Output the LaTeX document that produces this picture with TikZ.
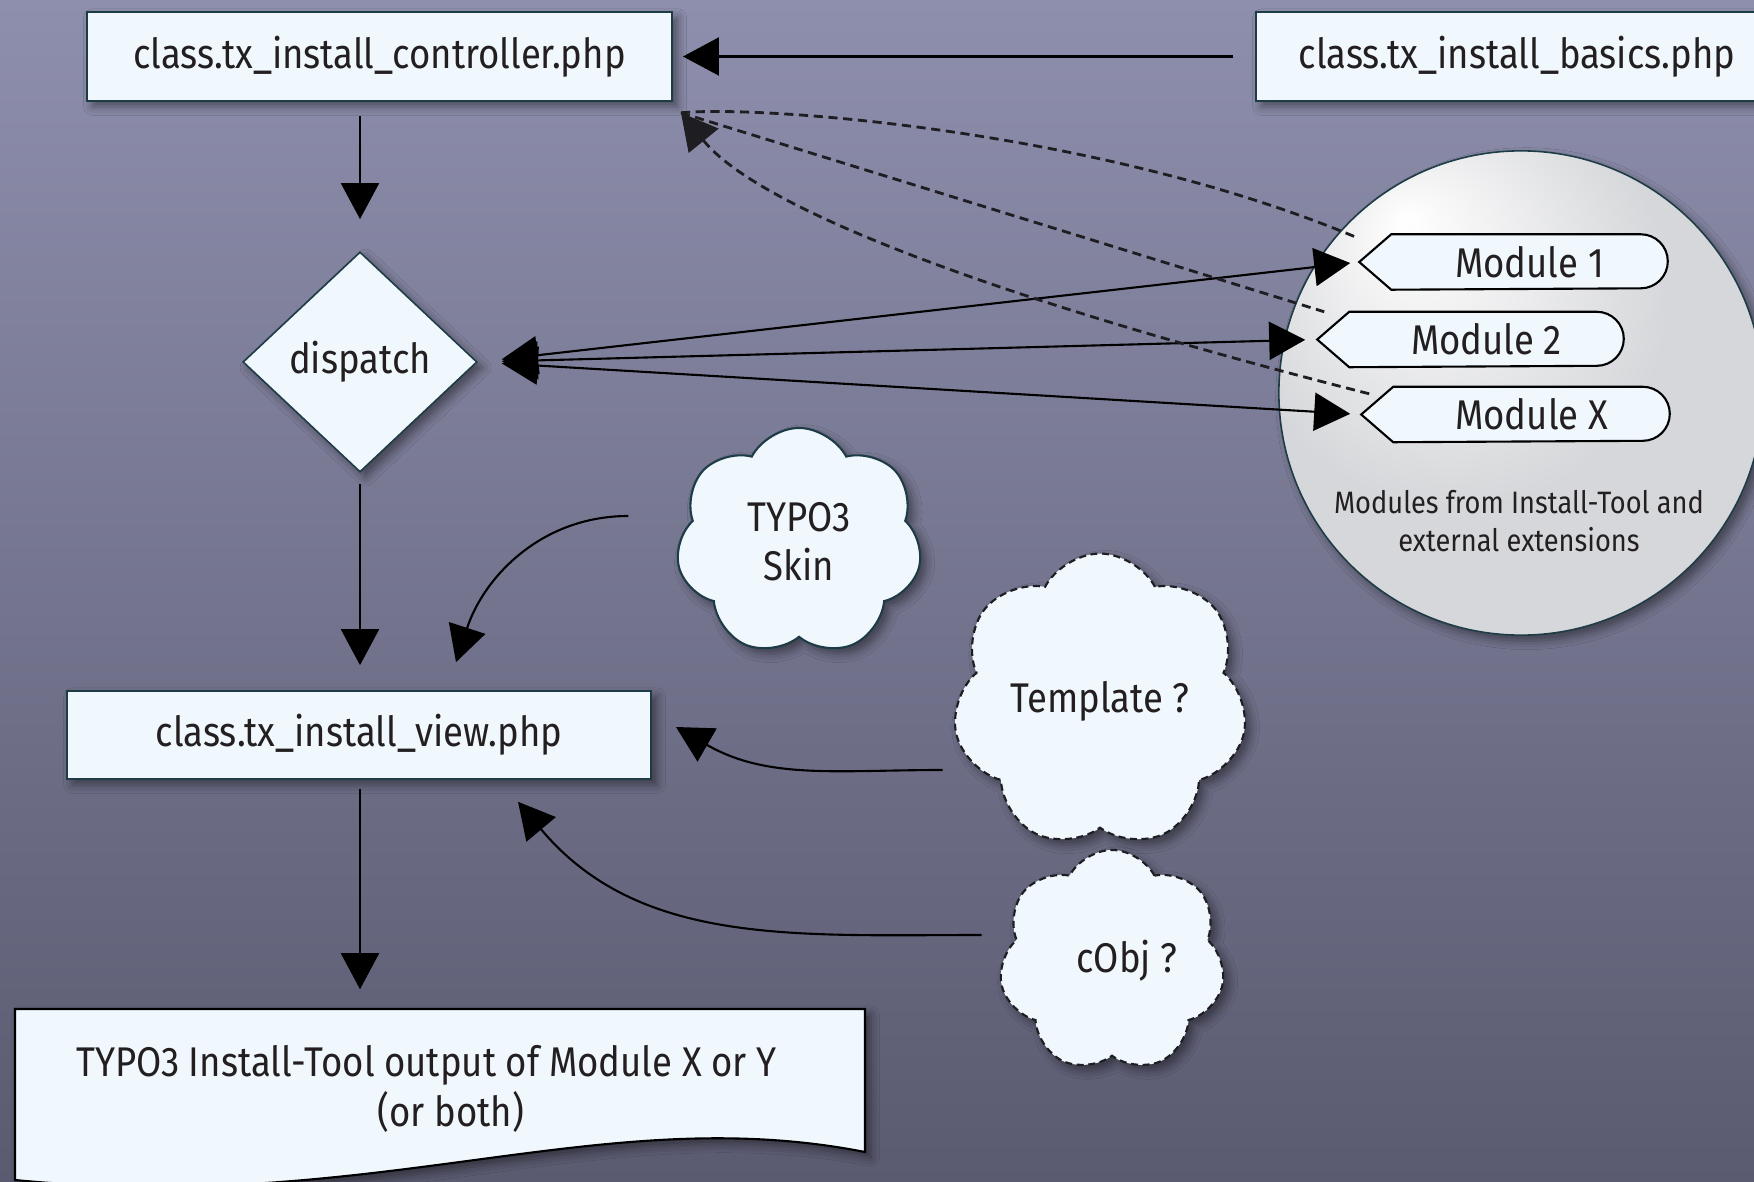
\documentclass[tikz,border=0pt]{standalone}
\usepackage{fontspec}
\setmainfont[FakeStretch=0.88]{Fira Sans}
\usetikzlibrary{arrows.meta,shapes.geometric,shapes.symbols,calc,shadows.blur}
\definecolor{bgtop}{RGB}{142,143,173}
\definecolor{bgbot}{RGB}{90,90,112}
\definecolor{boxfill}{RGB}{240,248,254}
\definecolor{boxline}{RGB}{30,60,70}
\definecolor{txt}{RGB}{35,31,32}
\definecolor{circgray}{RGB}{214,215,218}
\definecolor{dashcol}{RGB}{30,30,34}
\pgfdeclareradialshading{modshade}{\pgfpoint{-12bp}{18bp}}{color(0bp)=(white); color(22bp)=(circgray); color(50bp)=(circgray)}
\newcommand{\drawmod}[1]{%
  \path[modshape] (#1.west) -- ([xshift=0.32cm]#1.north west) -- ([xshift=-0.27cm]#1.north east)
    arc[start angle=90,end angle=-90,radius=0.27cm] -- ([xshift=0.32cm]#1.south west) -- cycle;}
\begin{document}
\begin{tikzpicture}[x=0.01cm,y=0.01cm,
  font=\fontsize{11.8}{14}\selectfont, text=txt,
  shad/.style={blur shadow={shadow xshift=1.6pt,shadow yshift=-1.6pt,shadow blur radius=2.5pt,shadow opacity=45}},
  box/.style={draw=boxline, line width=0.45pt, fill=boxfill, inner sep=0pt, shad},
  modshape/.style={draw=black, line width=0.6pt, fill=boxfill},
  cloudsolid/.style={cloud, cloud puffs=7, cloud puff arc=125, aspect=1, draw=boxline, line width=0.6pt, fill=boxfill, inner sep=0pt, align=center, shad},
  clouddash/.style={cloudsolid, draw=dashcol, dash pattern=on 2pt off 1.3pt},
  arr/.style={draw=black, line width=0.6pt, -{Triangle[length=0.36cm,width=0.38cm]}},
  dblarr/.style={draw=black, line width=0.6pt, {Triangle[length=0.36cm,width=0.38cm]}-{Triangle[length=0.36cm,width=0.38cm]}},
  dashln/.style={draw=dashcol, line width=0.8pt, dash pattern=on 2.6pt off 1.6pt}
]
\useasboundingbox (0,0) rectangle (1754,-1182);
\clip (0,0) rectangle (1754,-1182);
\shade[top color=bgtop, bottom color=bgbot] (0,0) rectangle (1754,-1182);

% module circle
\node[circle, minimum size=4.84cm, draw=boxline, line width=0.45pt, shading=modshade, shad] (modcircle) at (1521,-393) {};
\node[align=center, font=\fontsize{8.8}{11}\selectfont] (modtext) at (1519,-521) {Modules from Install-Tool and\\external extensions};

% boxes
\node[box, minimum width=5.85cm, minimum height=0.89cm] (ctrl) at (379.5,-56.5) {class.tx\_install\_controller.php};
\node[box, minimum width=5.22cm, minimum height=0.89cm] (basics) at (1517,-56.5) {class.tx\_install\_basics.php};
\node[diamond, box, minimum width=2.34cm, minimum height=2.2cm] (disp) at (360,-362) {dispatch};
\node[box, minimum width=5.84cm, minimum height=0.88cm] (view) at (359,-735) {class.tx\_install\_view.php};

% clouds
\node[cloudsolid, minimum width=2.46cm, minimum height=2.28cm] (skin) at (799,-542) {TYPO3\\Skin};
\node[clouddash, minimum width=2.40cm, minimum height=2.37cm] (tmpl) at (1100,-701) {Template ?};
\node[clouddash, minimum width=2.26cm, minimum height=2.22cm] (cobj) at (1112,-961) {\hspace*{0.3cm}cObj ?};

% modules
\node[minimum width=3.07cm, minimum height=0.54cm, inner sep=0pt] (m1) at (1513.5,-262) {};
\node[minimum width=3.05cm, minimum height=0.54cm, inner sep=0pt] (m2) at (1470.5,-339.5) {};
\node[minimum width=3.07cm, minimum height=0.54cm, inner sep=0pt] (mx) at (1515.5,-414.5) {};
\drawmod{m1}\drawmod{m2}\drawmod{mx}
\node (m1t) at ([xshift=0.16cm]m1.center) {Module 1};
\node (m2t) at ([xshift=0.16cm]m2.center) {Module 2};
\node (mxt) at ([xshift=0.16cm]mx.center) {Module X};

% output document
\path[draw=black, line width=0.6pt, fill=boxfill, shad] (15,-1009) -- (865,-1009) -- (865,-1152)
  .. controls (600,-1100) and (380,-1215) .. (15,-1180) -- cycle;
\node[inner sep=0pt, minimum width=8.5cm, minimum height=1.5cm, align=center] (out) at (451,-1089)
  {TYPO3 Install-Tool output of Module X or Y\hspace*{0.49cm}\\(or both)};

% connectors
\draw[arr, shorten <=0.22cm, shorten >=0.1cm] (basics.west) -- (ctrl.east);
\draw[arr, shorten <=0.14cm, shorten >=0.32cm] (disp.north |- ctrl.south) -- (disp.north);
\draw[arr, shorten <=0.11cm, shorten >=0.25cm] (disp.south) -- (disp.south |- view.north);
\draw[arr, shorten <=0.09cm, shorten >=0.24cm] (disp.south |- view.south) -- (disp.south |- out.north);

\draw[dblarr, shorten <=0.24cm, shorten >=0.09cm] (disp.east) -- (m1.west);
\draw[dblarr, shorten <=0.24cm, shorten >=0.12cm] (disp.east) -- (m2.west);
\draw[dblarr, shorten <=0.24cm, shorten >=0.11cm] (disp.east) -- (mx.west);

\coordinate (dtip) at ($(ctrl.south east)+(8,-11)$);
\draw[dashln] (dtip) .. controls (760,-105) and (1100,-130) .. ([xshift=-0.03cm,yshift=-0.03cm]m1.north west);
\draw[dashln] (dtip) -- ([xshift=0.07cm]m2.north west);
\draw[dashln, -{Triangle[length=0.36cm,width=0.38cm]}] ([xshift=0.08cm,yshift=-0.07cm]mx.north west) .. controls (1000,-300) and (760,-210) .. (dtip);

\coordinate (skinstart) at ($(skin.west)+(-50,26)$);
\coordinate (skintip) at ($(view.north)+(97,28)$);
\draw[arr] (skinstart) to[out=180,in=72] (skintip);
\coordinate (tmplstart) at ($(tmpl.west)+(-14,-69)$);
\coordinate (tmpltip) at ($(view.east)+(24,8)$);
\draw[arr] (tmplstart) to[out=180,in=-30] (tmpltip);
\coordinate (cobjstart) at ($(cobj.west)+(-20,26)$);
\coordinate (cobjtip) at ($(view.south)+(159,-22)$);
\draw[arr] (cobjstart) to[out=180,in=-50] (cobjtip);
\end{tikzpicture}
\end{document}
